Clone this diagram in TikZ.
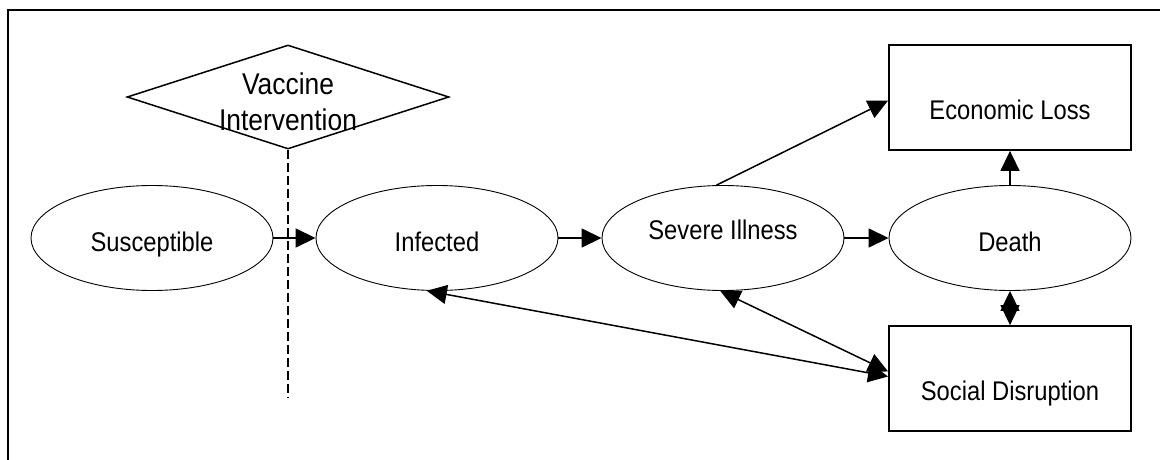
\documentclass[tikz,border=0pt]{standalone}
\usepackage{fontspec}
\setmainfont{Liberation Sans}[FakeStretch=0.88]
\usetikzlibrary{shapes.geometric,arrows.meta}
\begin{document}
\begin{tikzpicture}[x=1pt,y=-1pt,
  every node/.style={font=\fontsize{27}{32}\selectfont},
  state/.style={ellipse,draw,line width=0.9pt,minimum width=242pt,minimum height=105pt,inner sep=0pt,text depth=0pt},
  outcome/.style={rectangle,draw,line width=1.8pt,minimum width=242pt,minimum height=105pt,inner sep=0pt,text depth=0pt},
  decision/.style={diamond,draw,line width=1.5pt,minimum width=322pt,minimum height=104pt,inner sep=0pt},
  vtext/.style={align=center,font=\fontsize{30}{36}\selectfont,inner sep=0pt},
  conn/.style={line width=1.5pt,-{Triangle[length=20pt,width=19pt]}},
  biconn/.style={line width=1.5pt,{Triangle[length=20pt,width=19pt]}-{Triangle[length=20pt,width=19pt]}},
  frameline/.style={line width=2pt},
  intervention/.style={line width=1.6pt,dash pattern=on 9pt off 4pt}]
\useasboundingbox (0,0) rectangle (1160,460);
\draw[frameline] (8,460) -- (8,10) -- (1160,10);

\node[decision,label={[vtext,yshift=-5pt]center:Vaccine\\Intervention}] (vac) at (288,97) {};
\coordinate (vacend) at (288,397);

\node[state,text height=26.4pt] (sus) at (152,238) {Susceptible};
\node[state,text height=26.4pt] (inf) at (437,238) {Infected};
\node[state,text height=3.4pt] (sev) at (723,238) {Severe Illness};
\node[state,text height=26.4pt] (dea) at (1010,238) {Death};
\node[outcome,text height=44.4pt] (eco) at (1010,97.5) {Economic Loss};
\node[outcome,text height=44.4pt] (soc) at (1010,378.5) {Social Disruption};

\draw[intervention] (vac.south) -- (vacend);
\draw[conn] (sus) -- (inf);
\draw[conn] (inf) -- (sev);
\draw[conn] (sev) -- (dea);
\draw[conn] (dea) -- (eco);
\draw[conn] (sev.97) -- ([yshift=-3pt]eco.west);
\draw[biconn] (dea) -- (soc);
\draw[biconn] (inf.-101) -- ([yshift=2pt]soc.west);
\draw[biconn] (sev.-93) -- ([yshift=7pt]soc.west);
\end{tikzpicture}
\end{document}
